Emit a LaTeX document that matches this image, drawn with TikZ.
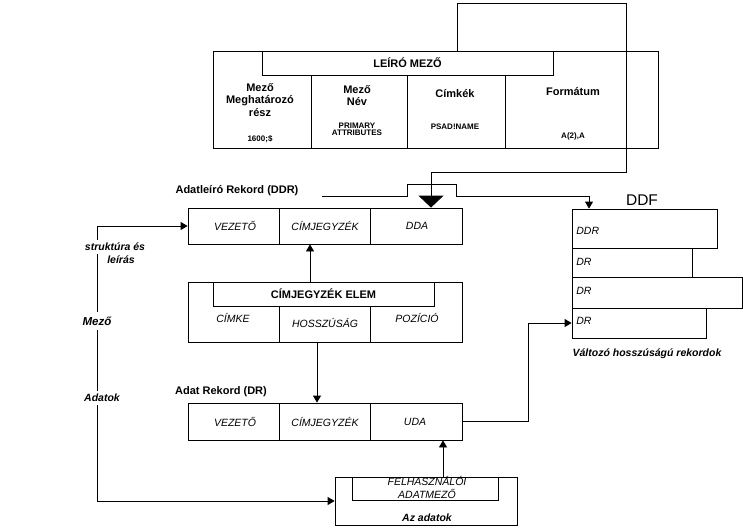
\documentclass[tikz,border=0pt]{standalone}
\usepackage{fontspec}
\setmainfont{Liberation Sans}
\usetikzlibrary{arrows.meta,calc}
\begin{document}
\begin{tikzpicture}[x=1pt,y=-1pt,
  line width=0.8pt,
  box/.style={draw,inner sep=0pt,line width=0.8pt},
  bf/.style={font=\fontsize{11}{12.5}\selectfont\bfseries,align=center},
  sm/.style={font=\fontsize{8}{7.5}\selectfont\bfseries,align=center},
  itx/.style={font=\fontsize{10.5}{12}\selectfont\itshape},
  bix/.style={font=\fontsize{10.5}{12}\selectfont\bfseries\itshape},
  lab/.style={bix,fill=white,inner xsep=2pt,inner ysep=3pt},
  arr/.style={-{Triangle[width=8pt,length=7pt]}},
  bigarr/.style={-{Triangle[width=25pt,length=12pt]}},
]
\useasboundingbox (0,0) rectangle (743,528);

% ---------- LEIRO MEZO block ----------
\node[box,minimum width=445pt,minimum height=97pt] (leiro) at (435.5,99.5) {};
\node[box,bf,minimum width=291pt,minimum height=24pt] (leirohdr) at (407.5,63) {LEÍRÓ MEZŐ};
\draw (311,75) -- (311,148);
\draw (407,75) -- (407,148);
\draw (505,75) -- (505,148);
\node[bf] (t11) at (260,100) {Mező\\Meghatározó\\rész};
\node[sm] (t12) at (260,139) {1600;\$};
\node[bf] (t21) at (357,95.5) {Mező\\Név};
\node[sm] (t22) at (357,129.5) {PRIMARY\\ATTRIBUTES};
\node[bf] (t31) at (455,94) {Címkék};
\node[sm] (t32) at (455,127) {PSAD!NAME};
\node[bf] (t41) at (573,92) {Formátum};
\node[sm] (t42) at (573,136) {A(2),A};

% ---------- DDR ----------
\node[bf] (ddrlbl) at (237,191) {Adatleíró Rekord (DDR)};
\node[box,minimum width=274pt,minimum height=36pt] (ddr) at (325,226) {};
\draw (279,208) -- (279,244);
\draw (370,208) -- (370,244);
\node[itx] (ddr1) at (235,226) {VEZETŐ};
\node[itx] (ddr2) at (325,226) {CÍMJEGYZÉK};
\node[itx] (ddr3) at (417,226) {DDA};

% ---------- CIMJEGYZEK ELEM ----------
\node[box,minimum width=274pt,minimum height=60pt] (elem) at (325,312) {};
\node[box,bf,minimum width=221pt,minimum height=24pt] (elemhdr) at (323.5,294) {CÍMJEGYZÉK ELEM};
\draw (279,306) -- (279,342);
\draw (370,306) -- (370,342);
\node[itx] (e1) at (233,318) {CÍMKE};
\node[itx] (e2) at (325,323) {HOSSZÚSÁG};
\node[itx] (e3) at (417,318) {POZÍCIÓ};

% ---------- DR ----------
\node[bf] (drlbl) at (221,392) {Adat Rekord (DR)};
\node[box,minimum width=274pt,minimum height=37pt] (dr) at (325,421.5) {};
\draw (279,403) -- (279,440);
\draw (370,403) -- (370,440);
\node[itx] (dr1) at (235,422) {VEZETŐ};
\node[itx] (dr2) at (325,422) {CÍMJEGYZÉK};
\node[itx] (dr3) at (415,422) {UDA};

% ---------- Az adatok ----------
\node[box,minimum width=182pt,minimum height=48pt] (adat) at (426,501) {};
\node[box,minimum width=146pt,minimum height=23pt] (felh) at (425,488.5) {};
\node[itx] (f1) at (427,481) {FELHASZNÁLÓI};
\node[itx] (f2) at (427,494) {ADATMEZŐ};
\node[bix] (azadatok) at (427,518) {Az adatok};

% ---------- DDF ----------
\node[font=\fontsize{15.5}{17}\selectfont] (ddflbl) at (642,200) {DDF};
\node[box,minimum width=145pt,minimum height=39pt] (b1) at (644.5,228.5) {};
\node[box,minimum width=120pt,minimum height=29pt] (b2) at (632,262.5) {};
\node[box,minimum width=170pt,minimum height=31pt] (b3) at (657,292.5) {};
\node[box,minimum width=134pt,minimum height=30pt] (b4) at (639,323) {};
\node[itx,anchor=west,inner sep=0pt] (bt1) at (576,231) {DDR};
\node[itx,anchor=west,inner sep=0pt] (bt2) at (576,262) {DR};
\node[itx,anchor=west,inner sep=0pt] (bt3) at (576,291) {DR};
\node[itx,anchor=west,inner sep=0pt] (bt4) at (576,321) {DR};
\node[bix] (varcap) at (647,354) {Változó hosszúságú rekordok};

% ---------- connectors ----------
\coordinate (p1) at (457,3);
\coordinate (p2) at (626,3);
\coordinate (p3) at (626,172);
\coordinate (p4) at (431,172);
\draw[bigarr] (leirohdr.north -| p1) -- (p1) -- (p2) -- (p3) -- (p4) -- (ddr.north -| p4);

\coordinate (q0) at (322,196);
\coordinate (q1) at (407,196);
\coordinate (q2) at (407,184);
\coordinate (q3) at (456,184);
\coordinate (q4) at (456,196);
\coordinate (q5) at (589,196);
\draw[arr] (q0) -- (q1) -- (q2) -- (q3) -- (q4) -- (q5) -- (b1.north -| q5);

\coordinate (ax1) at (310,0);
\draw[arr] (elem.north -| ax1) -- (ddr.south -| ax1);
\coordinate (ax2) at (317,0);
\draw[arr] (elem.south -| ax2) -- (dr.north -| ax2);
\coordinate (ax3) at (443,0);
\draw[arr] (adat.north -| ax3) -- (dr.south -| ax3);

\coordinate (rx) at (528,0);
\draw[arr] (dr.east) -- (dr.east -| rx) -- (b4.west -| rx) -- (b4.west);

\coordinate (lx) at (97,0);
\draw[{Triangle[width=8pt,length=7pt]}-{Triangle[width=8pt,length=7pt]}]
  (ddr.west) -- (ddr.west -| lx) -- (adat.west -| lx) -- (adat.west);

\node[lab] (s1) at (115,247) {struktúra és};
\node[lab] (s2) at (121,260) {leírás};
\node[lab,font=\fontsize{11.5}{13}\selectfont\bfseries\itshape,inner ysep=5pt] (mezo) at (97,321) {Mező};
\node[lab] (adatok) at (102,398) {Adatok};
\end{tikzpicture}
\end{document}
